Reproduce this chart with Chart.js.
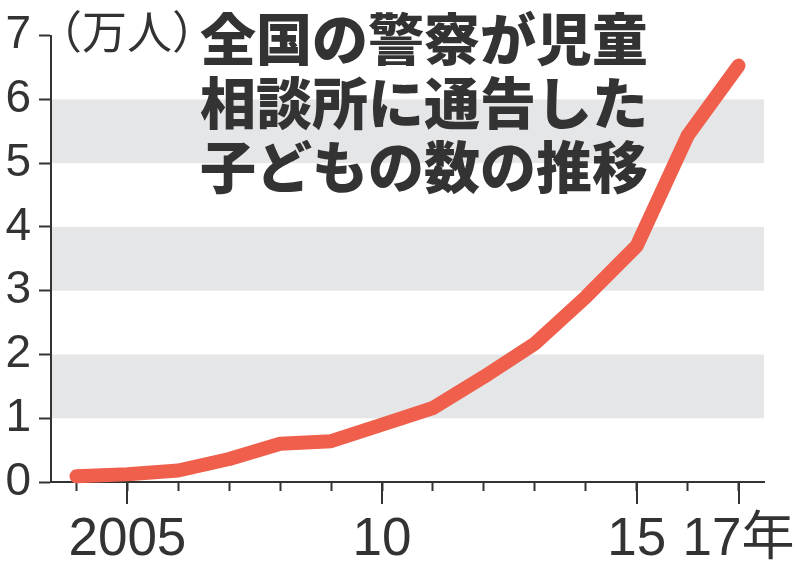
<!DOCTYPE html>
<html lang="ja">
<head>
  <meta charset="UTF-8" />
  <title>全国の警察が児童相談所に通告した子どもの数の推移</title>
  <script src="https://cdn.jsdelivr.net/npm/chart.js"></script>
  <style>
    body {
      margin: 0;
      background: #fff;
    }

    #wrap {
      position: relative;
      width: 798px;
      height: 564px;
    }

    #title {
      position: absolute;
      left: 200px;
      top: 4px;
      font-family: 'Noto Sans CJK JP', sans-serif;
      font-weight: 900;
      font-size: 56px;
      line-height: 64px;
      color: #333;
      white-space: nowrap;
    }

    #unit {
      position: absolute;
      left: 37px;
      top: 7px;
      font-family: 'Noto Sans CJK JP', sans-serif;
      font-size: 45px;
      line-height: 45px;
      color: #333;
    }
  </style>
</head>
<body>

  <div id="wrap">
    <canvas id="chart" width="798" height="564"></canvas>
    <div id="unit">（万人）</div>
    <div id="title">全国の警察が児童<br>相談所に通告した<br>子どもの数の推移</div>
  </div>

  <script>
    // 年ごとの通告数（万人）
    const years = [2004, 2005, 2006, 2007, 2008, 2009, 2010, 2011, 2012, 2013, 2014, 2015, 2016, 2017];
    const counts = [0.09, 0.12, 0.18, 0.36, 0.6, 0.64, 0.9, 1.16, 1.65, 2.17, 2.9, 3.7, 5.43, 6.53];

    const majorYears = [2005, 2010, 2015, 2017];
    const majorLabels = ['2005', '10', '15', '17年'];
    const yTicks = [0, 1, 2, 3, 4, 5, 6, 7];
    const bandRanges = [[1, 2], [3, 4], [5, 6]];

    const ink = '#333';

    const bands = {
      id: 'bands',
      beforeDraw(chart) {
        const { ctx, chartArea, scales } = chart;
        ctx.save();
        ctx.fillStyle = '#e5e6e8';
        bandRanges.forEach(([a, b]) => {
          const top = scales.y.getPixelForValue(b);
          const bottom = scales.y.getPixelForValue(a);
          ctx.fillRect(chartArea.left, top, chartArea.right - chartArea.left, bottom - top);
        });
        ctx.restore();
      }
    };

    // 主目盛りだけ長くする
    const longTicks = {
      id: 'longTicks',
      afterDraw(chart) {
        const { ctx, chartArea, scales } = chart;
        ctx.save();
        ctx.strokeStyle = ink;
        ctx.lineWidth = 2;
        majorYears.forEach(yr => {
          const x = Math.round(scales.x.getPixelForValue(yr));
          ctx.beginPath();
          ctx.moveTo(x, chartArea.bottom);
          ctx.lineTo(x, chartArea.bottom + 22);
          ctx.stroke();
        });
        ctx.restore();
      }
    };

    new Chart(document.getElementById('chart'), {
      type: 'line',
      data: {
        datasets: [{
          data: years.map((yr, i) => ({ x: yr, y: counts[i] })),
          borderColor: '#ef5f4b',
          borderWidth: 14,
          borderCapStyle: 'round',
          borderJoinStyle: 'round',
          pointRadius: 0,
          tension: 0,
          clip: false
        }]
      },
      options: {
        responsive: false,
        animation: false,
        layout: { padding: { top: 35, right: 34, left: 0, bottom: 0 } },
        plugins: {
          legend: { display: false },
          tooltip: { enabled: false }
        },
        scales: {
          x: {
            type: 'linear',
            min: 2003.5,
            max: 2017.5,
            afterBuildTicks: scale => {
              scale.ticks = years.map(v => ({ value: v }));
            },
            afterFit: scale => {
              scale.height = 82;
              scale.paddingLeft = 0;
              scale.paddingRight = 0;
            },
            grid: {
              drawOnChartArea: false,
              tickLength: 9,
              tickWidth: 2,
              tickColor: ink
            },
            border: { display: true, color: ink, width: 2 },
            ticks: {
              autoSkip: false,
              maxRotation: 0,
              padding: 18,
              color: ink,
              font: { family: "'Liberation Sans', 'Noto Sans CJK JP', sans-serif", size: 53 },
              callback: value => {
                const i = majorYears.indexOf(value);
                return i >= 0 ? majorLabels[i] : '';
              }
            }
          },
          y: {
            min: 0,
            max: 7,
            afterBuildTicks: scale => {
              scale.ticks = yTicks.map(v => ({ value: v }));
            },
            afterFit: scale => {
              scale.width = 51;
            },
            grid: {
              drawOnChartArea: false,
              tickLength: 12,
              tickWidth: 2,
              tickColor: ink
            },
            border: { display: true, color: ink, width: 2 },
            ticks: {
              padding: 8,
              color: ink,
              font: { family: "'Liberation Sans', sans-serif", size: 46 }
            }
          }
        }
      },
      plugins: [bands, longTicks]
    });
  </script>

</body>
</html>
